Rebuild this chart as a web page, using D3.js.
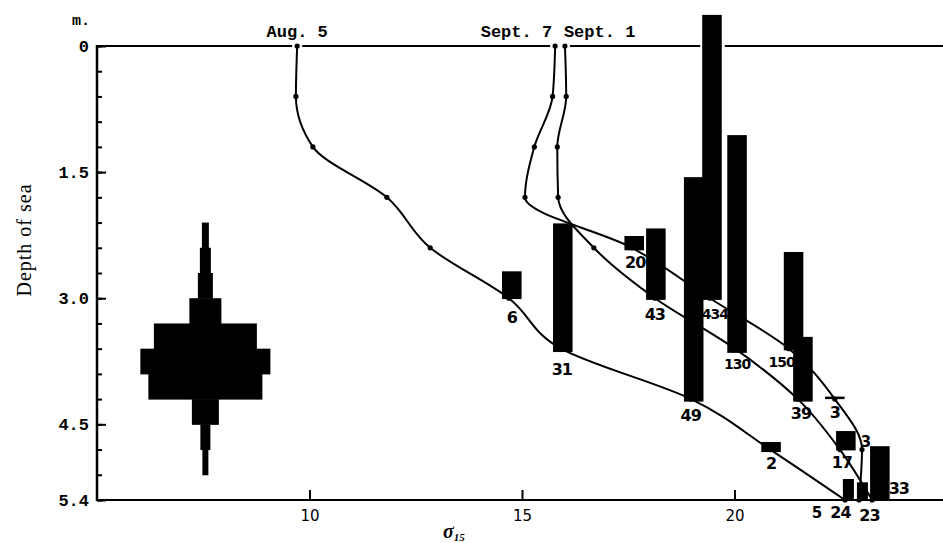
<!DOCTYPE html>
<html>
<head>
<meta charset="utf-8">
<script src="https://cdn.jsdelivr.net/npm/d3@7/dist/d3.min.js"></script>
<style>
  body { margin: 0; background: #fff; }
  svg { display: block; }
</style>
</head>
<body>
<div id="chart"></div>
<script>
// depth of each sample (m)
const depths = [0, 0.6, 1.2, 1.8, 2.4, 3.0, 3.6, 4.2, 4.8, 5.4];

// sigma-15 profiles, one value per depth
const aug5  = [9.71, 9.68, 10.08, 11.82, 12.84, 14.69, 15.92, 18.98, 20.84, 22.60];
const sept7 = [15.78, 15.72, 15.29, 15.07, 17.59, 19.42, 21.28, 22.36, 23.00, 22.93];
const sept1 = [16.01, 16.04, 15.83, 15.85, 16.69, 18.13, 20.01, 21.49, 22.48, 23.24];
const seriesNames = ["Aug. 5", "Sept. 7", "Sept. 1"];

// catch bars: sigma position, depth of base, depth of top, count
const barSigma = [14.76, 15.96, 17.64, 18.15, 19.04, 19.47, 20.06, 21.39, 21.61, 22.36, 20.86, 22.62, 22.68, 23.01, 23.42];
const barBase  = [3.01, 3.64, 2.43, 3.02, 4.23, 3.02, 3.65, 3.62, 4.23, 4.20, 4.83, 4.81, 5.40, 5.40, 5.40];
const barTop   = [2.68, 2.11, 2.26, 2.17, 1.56, -0.37, 1.06, 2.45, 3.46, 4.17, 4.71, 4.58, 5.15, 5.19, 4.76];
const barCount = ["6", "31", "20", "43", "49", "434", "130", "150", "39", "3", "2", "17", "24", "23", "33"];

// counts written beside points without a visible bar
const pointSigma = [22.60, 23.00];
const pointDepth = [5.40, 4.80];
const pointCount = ["5", "3"];

// kite diagram at left: top of each 0.3 m band and its width value
const kiteDepths = [2.1, 2.4, 2.7, 3.0, 3.3, 3.6, 3.9, 4.2, 4.5, 4.8];
const kiteValues = [7, 11, 15, 32, 103, 130, 114, 27, 10, 6];
const kiteCentre = 7.55;

const yMajor = [0, 1.5, 3.0, 4.5, 5.4];
const yMinor = d3.range(0, 5.41, 0.3);
const xTicks = [10, 15, 20];

const width = 943, height = 543;
const svg = d3.select('#chart').append('svg')
    .attr('width', width)
    .attr('height', height)
    .attr('xmlns', 'http://www.w3.org/2000/svg');

const x = d3.scaleLinear().domain([5, 25]).range([97, 947]);
const y = d3.scaleLinear().domain([0, 5.4]).range([46, 500]);
const kiteW = d3.scaleLinear().domain([0, 130]).range([0, 130]);

const mono = '"Liberation Mono", "DejaVu Sans Mono", monospace';
const hand = '"DejaVu Sans", "Liberation Sans", sans-serif';

// frame lines
svg.append('line')
    .attr('x1', x(5)).attr('x2', width)
    .attr('y1', y(0)).attr('y2', y(0))
    .attr('stroke', '#000').attr('stroke-width', 2);
svg.append('line')
    .attr('x1', x(5)).attr('x2', width)
    .attr('y1', y(5.4)).attr('y2', y(5.4))
    .attr('stroke', '#000').attr('stroke-width', 2);
svg.append('line')
    .attr('x1', x(5)).attr('x2', x(5))
    .attr('y1', y(0) - 1).attr('y2', y(5.4) + 1)
    .attr('stroke', '#000').attr('stroke-width', 2.5);

// small gaps in top line where the profiles start
const series = [aug5, sept7, sept1];
series.forEach(s => {
    svg.append('rect')
        .attr('x', x(s[0]) - 5).attr('y', y(0) - 3)
        .attr('width', 10).attr('height', 6)
        .attr('fill', '#fff');
});

// y axis: minor + major ticks pointing inward
svg.append('g')
    .attr('transform', `translate(${x(5)},0)`)
    .call(d3.axisLeft(y).tickValues(yMinor).tickSize(-5).tickFormat(''))
    .call(g => g.select('.domain').remove())
    .call(g => g.selectAll('line').attr('stroke-width', 2));

svg.append('g')
    .attr('transform', `translate(${x(5)},0)`)
    .call(d3.axisLeft(y).tickValues(yMajor).tickSize(-9).tickPadding(8)
        .tickFormat(d => d === 0 ? '0' : d3.format('.1f')(d)))
    .call(g => g.select('.domain').remove())
    .call(g => g.selectAll('line').attr('stroke-width', 2))
    .call(g => g.selectAll('text')
        .style('font-family', mono)
        .style('font-size', '17px')
        .style('font-weight', 'bold')
        .attr('fill', '#000'));

// x axis ticks pointing up
svg.append('g')
    .attr('transform', `translate(0,${y(5.4)})`)
    .call(d3.axisBottom(x).tickValues(xTicks).tickSize(-10).tickPadding(10))
    .call(g => g.select('.domain').remove())
    .call(g => g.selectAll('line').attr('stroke-width', 2))
    .call(g => g.selectAll('text')
        .style('font-family', hand)
        .style('font-size', '15px')
        .attr('fill', '#000'));

// axis titles
svg.append('text')
    .attr('x', 72).attr('y', 25)
    .style('font-family', mono)
    .style('font-size', '15px')
    .style('font-weight', 'bold')
    .text('m.');

svg.append('text')
    .attr('transform', `translate(31,${240}) rotate(-90)`)
    .attr('text-anchor', 'middle')
    .style('font-family', '"Liberation Serif", "DejaVu Serif", serif')
    .style('font-size', '20px')
    .style('letter-spacing', '1px')
    .text('Depth of sea');

const xt = svg.append('text')
    .attr('x', 443).attr('y', 538)
    .style('font-family', '"Liberation Serif", serif')
    .style('font-weight', 'bold')
    .style('font-style', 'italic');
xt.append('tspan').style('font-size', '20px').text('σ');
xt.append('tspan').style('font-size', '11px').attr('dy', 3).text('15');

// kite diagram
const band = y(0.3) - y(0);
svg.append('g').selectAll('rect')
    .data(kiteValues)
    .join('rect')
    .attr('x', d => x(kiteCentre) - kiteW(d) / 2)
    .attr('y', (d, i) => y(kiteDepths[i]))
    .attr('width', d => kiteW(d))
    .attr('height', band + 0.5)
    .attr('fill', '#000');

// bars
const narrow = new Set([12, 13]);
const barW = i => narrow.has(i) ? 11 : x(5.46) - x(5);
const bars = barSigma.map((s, i) => ({ s, base: barBase[i], top: barTop[i], count: barCount[i], i }));

// white gap in the top line around the tall bar
bars.filter(b => b.top < 0).forEach(b => {
    svg.append('rect')
        .attr('x', x(b.s) - barW(b.i) / 2 - 2).attr('y', y(0) - 3)
        .attr('width', barW(b.i) + 5).attr('height', 6)
        .attr('fill', '#fff');
});

svg.append('g').selectAll('rect')
    .data(bars)
    .join('rect')
    .attr('x', d => x(d.s) - barW(d.i) / 2)
    .attr('y', d => y(d.top))
    .attr('width', d => barW(d.i))
    .attr('height', d => Math.max(1.5, y(d.base) - y(d.top)))
    .attr('fill', '#000');

// profile lines
const line = d3.line()
    .x(d => x(d[0]))
    .y(d => y(d[1]))
    .curve(d3.curveMonotoneY);

series.forEach(s => {
    const pts = s.map((v, i) => [v, depths[i]]);
    svg.append('path')
        .datum(pts)
        .attr('d', line)
        .attr('fill', 'none')
        .attr('stroke', '#000')
        .attr('stroke-width', 2);
    svg.append('g').selectAll('circle')
        .data(pts)
        .join('circle')
        .attr('cx', d => x(d[0]))
        .attr('cy', d => y(d[1]))
        .attr('r', 2.6)
        .attr('fill', '#000');
});

// series names above the top line
const nameAnchor = ['middle', 'end', 'start'];
const nameShift = [0, -3, -1];
series.forEach((s, i) => {
    svg.append('text')
        .attr('x', x(s[0]) + nameShift[i])
        .attr('y', 37)
        .attr('text-anchor', nameAnchor[i])
        .style('font-family', mono)
        .style('font-size', '17px')
        .style('font-weight', 'bold')
        .text(seriesNames[i]);
});

// count labels below the bars
const nudge = [
    [0, 18], [-1, 17], [1, 12], [-1, 15], [-3, 14], [3, 14], [0, 11], [-12, 12],
    [-2, 12], [0, 13], [0, 11], [-4, 12], [-8, 12], [7, 15], [19, -12]
];
svg.append('g').selectAll('text')
    .data(bars)
    .join('text')
    .attr('x', d => x(d.s) + nudge[d.i][0])
    .attr('y', d => y(d.base) + nudge[d.i][1])
    .attr('text-anchor', 'middle')
    .attr('dominant-baseline', 'central')
    .style('font-family', hand)
    .style('font-weight', 'bold')
    .style('font-size', d => d.count.length > 2 ? '14px' : '16px')
    .style('letter-spacing', '-1px')
    .text(d => d.count);

const pointNudge = [[-28, 13], [4, -8]];
svg.append('g').selectAll('text')
    .data(pointCount)
    .join('text')
    .attr('x', (d, i) => x(pointSigma[i]) + pointNudge[i][0])
    .attr('y', (d, i) => y(pointDepth[i]) + pointNudge[i][1])
    .attr('text-anchor', 'middle')
    .attr('dominant-baseline', 'central')
    .style('font-family', hand)
    .style('font-weight', 'bold')
    .style('font-size', '15px')
    .text(d => d);
</script>
</body>
</html>
